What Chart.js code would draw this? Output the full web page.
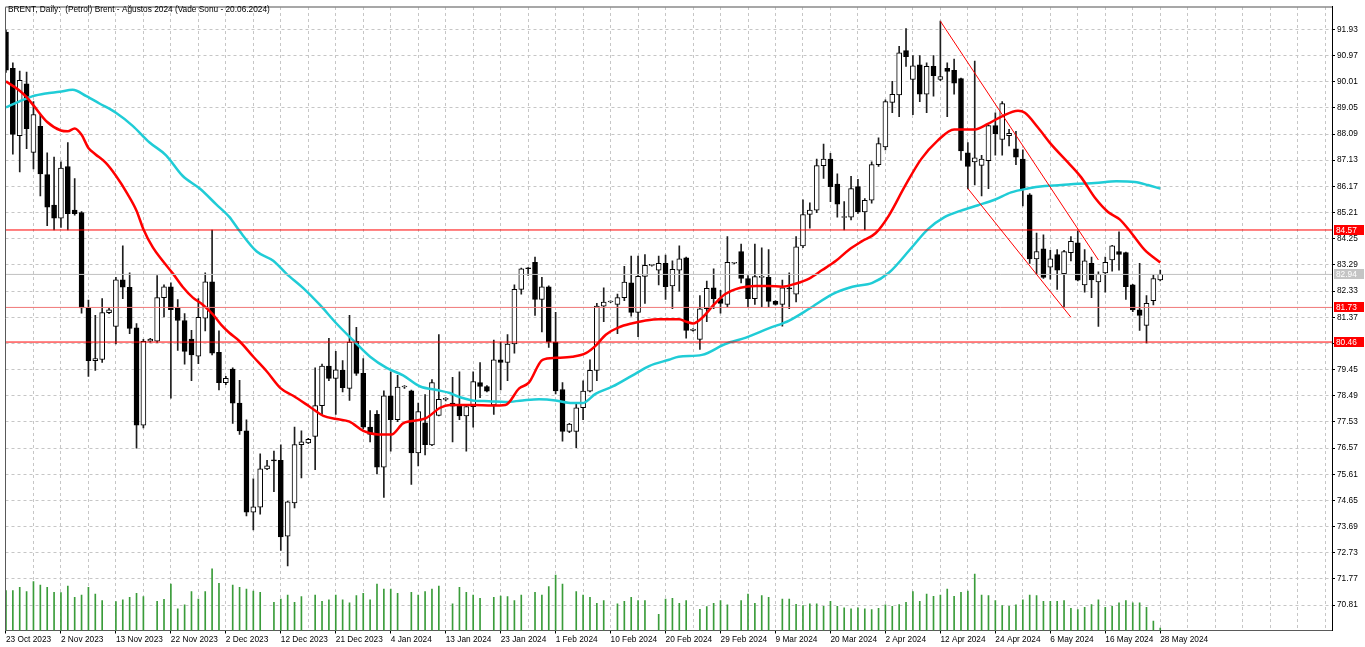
<!DOCTYPE html>
<html>
<head>
<meta charset="utf-8">
<script src="https://cdn.jsdelivr.net/npm/chart.js@4.4.0/dist/chart.umd.min.js"></script>
<style>
html,body{margin:0;padding:0;background:#fff;overflow:hidden}
#wrap{position:relative;width:1365px;height:647px;background:#fff}
</style>
</head>
<body>
<div id="wrap"><canvas id="c" width="1365" height="647"></canvas></div>
<script>
// ---------- DATA ----------
const chartTitle = 'BRENT, Daily:  (Petrol) Brent - A\u011fustos 2024 (Vade Sonu - 20.06.2024)';

// date labels shown every 8 bars (bar 0, 8, 16, ...)
const dateLabels = ['23 Oct 2023','2 Nov 2023','13 Nov 2023','22 Nov 2023','2 Dec 2023','12 Dec 2023',
  '21 Dec 2023','4 Jan 2024','13 Jan 2024','23 Jan 2024','1 Feb 2024','10 Feb 2024','20 Feb 2024',
  '29 Feb 2024','9 Mar 2024','20 Mar 2024','2 Apr 2024','12 Apr 2024','24 Apr 2024','6 May 2024',
  '16 May 2024','28 May 2024'];

const priceTicks = [70.81,71.77,72.73,73.69,74.65,75.61,76.57,77.53,78.49,79.45,80.41,81.37,82.33,
  83.29,84.25,85.21,86.17,87.13,88.09,89.05,90.01,90.97,91.93];

const opens = [
  91.83,90.50,88.03,89.93,87.42,88.37,86.60,85.48,85.00,86.90,
  85.30,85.21,81.71,79.78,79.82,81.54,81.03,82.74,82.47,80.98,
  77.41,80.49,80.49,82.09,82.49,81.71,81.25,80.57,79.94,81.34,
  82.67,80.08,78.97,79.47,78.22,77.20,74.22,74.40,75.81,76.12,
  76.12,73.34,74.56,76.70,76.76,77.00,78.13,79.58,79.13,79.42,
  78.76,80.49,79.31,77.34,77.81,75.87,78.49,77.61,78.81,78.67,
  76.39,77.50,76.69,77.77,78.36,78.22,78.11,77.75,78.09,78.97,
  78.83,78.15,79.81,79.71,80.39,82.39,83.17,83.38,82.02,82.49,
  80.46,78.72,77.18,77.18,78.05,78.66,79.42,81.78,81.93,81.84,
  82.09,82.63,81.55,82.87,83.27,83.10,83.35,82.52,83.10,83.55,
  80.89,80.56,81.68,82.45,82.05,81.84,83.35,83.78,82.79,82.05,
  82.83,82.83,81.95,81.84,82.43,82.22,83.99,85.14,85.30,86.93,
  87.17,86.25,85.03,85.04,86.16,85.23,85.66,86.97,87.62,89.25,
  89.52,91.15,90.09,90.63,89.55,90.57,90.09,90.50,90.43,90.12,
  87.40,87.07,86.94,87.11,88.40,87.89,88.03,87.55,87.17,85.86,
  83.51,83.88,83.21,83.67,82.97,83.74,84.10,82.56,83.35,82.67,
  83.00,83.47,83.78,83.74,82.56,81.64,81.07,81.98,82.74];

const highs = [
  91.90,90.70,90.40,90.36,89.28,88.80,87.40,87.24,87.07,87.78,
  86.46,85.25,82.00,81.44,82.05,81.71,82.83,83.99,83.00,81.14,
  80.56,80.60,82.90,82.56,82.63,82.02,81.50,80.89,82.05,83.00,
  84.57,80.87,79.20,79.51,79.06,77.61,75.44,76.36,76.12,76.46,
  76.69,74.63,77.34,77.20,76.93,79.51,79.65,80.60,80.12,79.78,
  81.44,81.00,79.85,77.95,77.95,78.67,79.37,79.24,78.86,78.70,
  78.22,78.53,79.08,80.73,78.42,79.17,79.37,78.15,79.37,79.71,
  78.86,80.53,80.46,80.73,82.56,83.17,83.19,83.58,82.83,82.52,
  81.55,78.97,77.48,78.22,79.04,79.81,81.88,82.45,81.97,82.22,
  83.24,83.61,83.61,83.67,83.30,83.61,83.65,83.44,83.99,83.58,
  80.95,82.16,82.70,83.15,82.36,84.33,83.38,84.05,82.90,84.05,
  83.92,83.85,81.98,82.73,83.00,84.33,85.68,85.57,87.17,87.72,
  87.38,86.63,85.61,86.54,86.43,85.72,87.07,87.95,89.34,90.02,
  91.31,91.96,90.97,90.97,90.70,90.97,92.23,90.70,90.84,90.14,
  87.78,90.77,87.31,88.42,88.87,89.28,88.26,88.19,87.51,85.91,
  84.46,84.39,83.82,83.85,83.82,84.33,84.53,83.85,83.58,83.04,
  83.58,84.01,84.50,83.76,82.58,83.35,82.16,82.93,83.10];

const lows = [
  90.35,87.35,86.70,87.55,86.81,85.82,84.73,84.57,84.66,84.57,
  85.11,81.52,79.20,79.42,79.71,81.50,80.39,82.05,80.77,76.57,
  77.31,80.46,80.45,81.38,78.40,80.15,79.65,79.04,79.67,80.87,
  79.99,78.70,78.90,77.48,77.07,74.08,73.57,74.15,75.78,74.97,
  72.82,72.25,74.38,75.48,76.73,75.78,77.81,79.04,77.81,78.63,
  78.32,79.24,77.27,76.80,75.62,74.76,76.46,77.54,78.76,75.24,
  75.92,76.32,76.66,77.75,78.30,76.80,77.61,76.46,77.34,78.42,
  78.63,77.81,78.70,79.04,80.05,82.22,82.90,81.44,80.83,80.26,
  78.56,76.82,77.14,76.59,77.61,78.63,79.04,81.21,81.90,80.77,
  81.98,81.41,80.66,81.88,83.24,82.56,82.02,81.68,82.33,80.60,
  80.86,80.19,81.21,81.68,81.52,81.75,83.33,82.63,81.75,81.84,
  81.75,81.75,81.81,81.04,81.68,81.93,83.92,84.64,85.21,86.46,
  85.61,85.04,84.57,84.94,85.18,84.57,85.55,86.90,87.51,88.87,
  88.73,90.57,88.80,89.28,88.87,89.48,90.05,88.73,89.55,87.13,
  86.09,86.22,85.82,86.09,87.31,87.31,87.65,86.97,85.45,83.34,
  82.97,82.79,82.77,82.39,81.75,83.44,82.70,82.29,82.09,81.03,
  82.29,83.06,83.10,82.02,81.57,80.89,80.43,81.82,82.70];

const closes = [
  90.43,88.08,90.06,88.29,88.80,86.63,85.41,85.00,86.84,85.17,
  85.17,81.71,79.78,79.85,81.54,81.64,82.74,82.47,80.96,77.41,
  80.49,80.57,82.09,82.49,81.65,81.25,80.12,79.99,81.37,82.67,
  80.05,78.97,79.13,78.22,77.20,74.22,74.42,75.81,75.92,76.10,
  73.31,74.60,76.70,76.80,76.89,78.13,79.58,79.13,79.44,78.79,
  80.46,79.31,77.34,77.07,75.87,78.49,77.61,78.81,78.83,76.39,
  77.91,76.70,78.97,78.36,78.39,78.11,77.75,78.09,79.01,78.83,
  78.66,79.81,79.71,80.39,82.39,83.15,83.15,82.02,82.49,80.46,
  78.67,77.18,77.45,78.05,78.66,79.42,81.78,81.93,81.95,82.09,
  82.66,81.55,82.87,83.27,83.27,83.35,82.49,83.13,83.51,80.89,
  80.93,81.68,82.43,82.05,81.88,83.38,83.36,82.79,82.05,82.86,
  82.85,81.95,81.84,82.45,82.41,83.95,85.14,85.30,86.93,87.17,
  86.16,85.52,85.04,86.09,85.23,85.66,86.97,87.74,89.28,89.55,
  91.07,90.93,90.59,89.55,90.57,90.23,90.20,90.39,89.96,87.47,
  86.90,87.22,87.17,88.40,88.10,89.21,88.12,87.24,86.05,83.51,
  83.78,82.83,83.51,83.10,83.78,84.15,82.73,83.44,82.74,82.94,
  83.38,83.99,83.67,82.49,81.64,81.44,81.88,82.79,82.94];

const volumes = [
  120,120,130,117,147,137,130,115,114,134,
  100,107,130,110,90,0,87,92,100,112,
  102,0,88,94,140,65,77,117,95,117,
  186,142,0,137,130,125,119,115,0,85,
  95,107,85,102,0,107,88,92,107,92,
  83,105,112,92,140,125,125,112,0,115,
  107,117,125,134,0,80,130,115,107,97,
  0,100,104,102,90,107,0,115,107,132,
  167,140,0,117,107,100,82,90,0,80,
  88,100,90,90,0,49,95,97,82,90,
  0,64,72,82,90,77,0,90,110,82,
  105,100,0,95,95,79,75,80,80,73,
  88,73,68,65,68,65,63,67,77,73,
  78,85,117,88,110,103,107,125,103,115,
  119,170,107,105,90,75,73,77,92,107,
  105,88,88,88,90,67,63,70,78,92,
  70,73,83,90,83,83,70,28,7];

// fast moving average (red) at these bar positions
const maFastBars = [0,2,3,4,6,8,9,10,11,12,13,14.5,16,17.7,19,20,21.4,22.8,24.3,25.7,27.2,28.6,30.1,31.3,32.5,
  34,36,38,40,41.8,44.2,46.2,48.1,50,52,54.2,56.1,57.8,60.3,61.2,63.2,64.6,67.9,70.8,72.7,74.7,76.1,78.1,80,
  82.4,84.4,85.8,87.3,89.2,91.2,93.1,95,98,99,100,101.3,103,104.7,106.9,109.1,111,113,114.9,116.9,118.8,
  120.8,122.7,124.6,126.6,128.5,130.8,133.2,135.6,138,141,142.9,144.9,147.3,148.3,150.2,152.1,154.6,156.5,
  158.5,160.4,162.1,163.8,165.7,168];
const maFastValues = [90.02,89.68,89.44,89.14,88.53,88.22,88.19,88.29,88.06,87.58,87.35,87.04,86.56,85.89,85.28,
  84.60,83.92,83.44,82.97,82.49,82.09,81.84,81.48,81.10,80.80,
  80.49,79.92,79.37,78.76,78.49,78.09,77.75,77.64,77.54,77.20,77.07,77.07,77.48,77.61,77.68,78.05,78.15,78.15,
  78.13,78.15,78.76,78.97,79.81,79.88,
  79.92,80.05,80.32,80.73,81.00,81.15,81.25,81.30,81.30,81.21,81.14,81.34,81.82,82.22,82.45,82.52,82.52,82.49,
  82.60,82.79,83.10,
  83.44,83.85,84.16,84.46,85.10,86.16,87.17,87.85,88.26,88.26,88.46,88.73,88.94,88.87,88.33,87.72,87.04,86.50,
  85.75,85.23,84.96,84.46,83.85,83.38];

// slow moving average (cyan)
const maSlowBars = [0,1.9,3.9,5.8,7.8,9.7,11.7,13.6,16,18.4,20.9,23.3,25.7,28.2,30.6,32.5,34,36.5,38.9,40.8,43.3,
  45.7,48.1,50.5,53,55.4,57.8,60.3,62.7,64.6,65.5,67.9,70.3,72.7,75.2,77.6,80,82.4,83.9,85.8,88.3,91.2,93.6,
  96.5,97.9,101.3,104.7,107.7,111,114,116.9,120.3,123.2,126.1,128.5,131.8,134.2,136.6,139,141.5,143.9,146.3,
  148.7,151.2,153.6,156,158.5,161.6,164.3,166.2,168];
const maSlowValues = [89.07,89.28,89.48,89.58,89.64,89.71,89.48,89.21,88.87,88.40,87.78,87.31,86.56,86.09,85.51,
  85.05,84.53,83.78,83.44,82.97,82.43,81.82,81.14,80.53,79.92,79.51,79.24,78.83,78.70,78.59,78.49,78.32,78.29,
  78.26,78.32,78.36,78.32,78.22,78.22,78.56,78.83,79.24,79.58,79.81,79.92,79.99,80.39,80.62,80.96,81.25,81.68,
  82.22,82.49,82.63,83.00,83.92,84.60,85.04,85.28,85.48,85.68,85.95,86.09,86.18,86.22,86.27,86.29,86.36,86.33,
  86.22,86.09];

// horizontal levels and last price
const levelPrices = [84.57, 81.73, 80.46];
const lastPrice = 82.94;
// descending channel: [bar, price] endpoints
const channelUpper = [[136, 92.23], [159, 83.47]];
const channelLower = [[140, 86.09], [155, 81.37]];

// ---------- AXIS RANGES ----------
const xMin = -0.07, xMax = 193.0;
const yMin = 69.88, yMax = 92.75;
const volMax = 1878;
const FONT = 'Liberation Sans';

// ---------- BUILD ----------
const idx = opens.map((_, i) => i);
const wickData = idx.map(i => ({x: i, y: [lows[i], highs[i]]}));
const bodyData = idx.map(i => ({x: i, y: [opens[i], closes[i]]}));
const volData = idx.map(i => ({x: i, y: volumes[i]}));
const fastData = maFastBars.map((b, i) => ({x: b, y: maFastValues[i]}));
const slowData = maSlowBars.map((b, i) => ({x: b, y: maSlowValues[i]}));
const hLine = v => [{x: xMin, y: v}, {x: xMax, y: v}];
const seg = s => s.map(p => ({x: p[0], y: p[1]}));
const gridTicks = [];
for (let v = 0; v <= xMax; v += 4) gridTicks.push(v);
const levelColors = ['#ff0000', '#f07878', '#ff0000'];

const lineDs = (data, color, width, order, extra) => Object.assign({
  type: 'line', data, borderColor: color, borderWidth: width, pointRadius: 0,
  fill: false, order, yAxisID: 'y'
}, extra || {});

const datasets = [
  lineDs(seg(channelUpper), '#ff0000', 1, 0),
  lineDs(seg(channelLower), '#ff0000', 1, 0),
  ...levelPrices.map((v, k) => lineDs(hLine(v), levelColors[k], 1, 1)),
  lineDs(hLine(lastPrice), '#c0c0c0', 1, 1),
  lineDs(fastData, '#ff0000', 2.5, 2, {cubicInterpolationMode: 'monotone'}),
  lineDs(slowData, 'rgb(32,204,214)', 2.5, 2, {cubicInterpolationMode: 'monotone'}),
  {
    type: 'bar', data: bodyData, yAxisID: 'y', order: 5, grouped: false,
    barThickness: 5, minBarLength: 1, borderWidth: 1, borderSkipped: false,
    borderColor: '#000',
    backgroundColor: ctx => (closes[ctx.dataIndex] >= opens[ctx.dataIndex] ? '#ffffff' : '#000000')
  },
  {
    type: 'bar', data: wickData, yAxisID: 'y', order: 6, grouped: false,
    barThickness: 1, borderWidth: 0, backgroundColor: '#1e1e1e'
  },
  {
    type: 'bar', data: volData, yAxisID: 'yv', order: 9, grouped: false,
    barThickness: 1, borderWidth: 0, backgroundColor: 'rgb(58,156,58)'
  }
];

const overlay = {
  id: 'overlay',
  afterDraw(chart) {
    const {ctx, chartArea: a, scales} = chart;
    ctx.save();
    // frame: left and top
    ctx.setLineDash([]);
    ctx.strokeStyle = '#5a5a5a'; ctx.lineWidth = 1;
    ctx.beginPath(); ctx.moveTo(a.left, a.top); ctx.lineTo(a.left, a.bottom); ctx.stroke();
    ctx.strokeStyle = '#8a8a8a'; ctx.lineWidth = 1.5;
    ctx.beginPath(); ctx.moveTo(a.left, a.top); ctx.lineTo(a.right, a.top); ctx.stroke();
    // title
    ctx.fillStyle = '#000';
    ctx.font = '8.3px "' + FONT + '"';
    ctx.textBaseline = 'middle'; ctx.textAlign = 'left';
    ctx.fillText(chartTitle, 8, 10);
    // price boxes on the right axis
    const box = (v, bg, fg) => {
      const py = Math.round(scales.y.getPixelForValue(v));
      ctx.fillStyle = bg;
      ctx.fillRect(a.right + 2, py - 5, 30, 10);
      ctx.fillStyle = fg;
      ctx.fillText(v.toFixed(2), a.right + 4, py + 0.5);
    };
    box(lastPrice, '#c4c4c4', '#ffffff');
    levelPrices.forEach(v => box(v, '#ff0000', '#ffffff'));
    ctx.restore();
  }
};

Chart.defaults.font.family = FONT;
new Chart(document.getElementById('c'), {
  type: 'bar',
  data: {datasets},
  plugins: [overlay],
  options: {
    responsive: false, animation: false, devicePixelRatio: 1,
    layout: {padding: {left: 5.5, top: 4.5, right: 0, bottom: 0}},
    plugins: {legend: {display: false}, tooltip: {enabled: false}, title: {display: false}},
    scales: {
      x: {
        type: 'linear', position: 'bottom', min: xMin, max: xMax, offset: false,
        afterBuildTicks: s => { s.ticks = gridTicks.map(v => ({value: v})); },
        afterFit: s => { s.height = 16.5; },
        grid: {
          offset: false, lineWidth: 1, drawTicks: true, tickLength: 3,
          color: ctx => (ctx.tick && ctx.tick.value === 0 ? 'rgba(0,0,0,0)' : '#c6c6c6'),
          tickColor: ctx => (ctx.tick && ctx.tick.value % 8 === 0 && ctx.tick.value / 8 < dateLabels.length ? '#000' : 'rgba(0,0,0,0)')
        },
        border: {display: true, color: '#5a5a5a', width: 1, dash: [3, 3]},
        ticks: {
          autoSkip: false, maxRotation: 0, minRotation: 0, align: 'start', padding: 1,
          color: '#000', font: {family: FONT, size: 8.3},
          callback: v => (v % 8 === 0 && v / 8 < dateLabels.length ? dateLabels[v / 8] : '')
        }
      },
      y: {
        type: 'linear', position: 'right', min: yMin, max: yMax, beginAtZero: false,
        afterBuildTicks: s => { s.ticks = priceTicks.map(v => ({value: v})); },
        afterFit: s => { s.width = 33; },
        grid: {lineWidth: 1, color: '#c6c6c6', drawTicks: true, tickLength: 3, tickColor: '#000'},
        border: {display: true, color: '#000', width: 1, dash: [3, 3]},
        ticks: {
          autoSkip: false, padding: 2, color: '#000', font: {family: FONT, size: 8.3},
          callback: v => Number(v).toFixed(2)
        }
      },
      yv: {
        type: 'linear', axis: 'y', display: false, min: 0, max: volMax,
        grid: {display: false}
      }
    }
  }
});
</script>
</body>
</html>
